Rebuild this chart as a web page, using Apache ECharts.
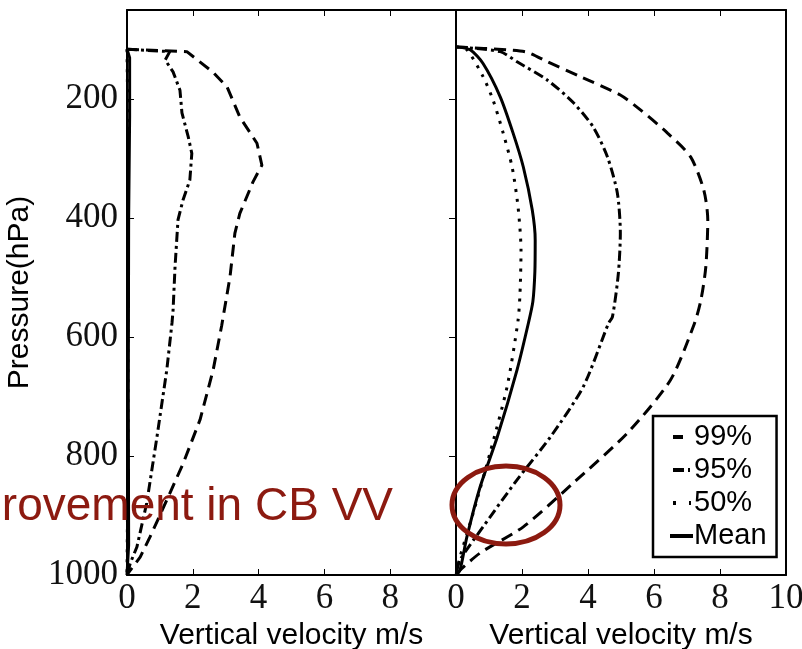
<!DOCTYPE html>
<html>
<head>
<meta charset="utf-8">
<script src="https://cdn.jsdelivr.net/npm/echarts@6/dist/echarts.min.js"></script>
<style>
  html, body { margin: 0; padding: 0; background: #fff; }
  #chart { width: 802px; height: 649px; }
</style>
</head>
<body>
<div id="chart"></div>
<script>
// Vertical velocity profiles: [velocity (m/s), pressure (hPa)]
const leftP99 = [[0,116],[1.82,120],[2.6,154],[3.04,179],[3.43,230],[3.95,274],[4.1,311],[3.83,339],[3.43,392],[3.28,425],[3.13,499],[2.88,580],[2.62,655],[2.22,739],[1.71,812],[1.21,874],[0.7,936],[0.4,970],[0.1,992],[0,1000]];
const leftP95 = [[0,116],[1.3,120],[1.16,134],[1.4,154],[1.61,185],[1.67,223],[1.86,263],[1.97,291],[1.91,336],[1.7,370],[1.55,403],[1.46,482],[1.4,555],[1.37,575],[1.21,655],[0.91,768],[0.6,879],[0.3,953],[0.1,980],[0,1000]];
const leftP50 = [[0,116],[0.03,250],[0.03,500],[0.03,800],[0,1000]];
const leftMean = [[0,116],[0.08,130],[0.08,230],[0.05,400],[0.04,700],[0.05,950],[0,1000]];

const rightP99 = [[0,112],[1.55,117],[2.16,121],[2.77,137],[3.77,162],[4.98,193],[5.59,218],[6.41,257],[7.11,297],[7.51,353],[7.63,403],[7.57,482],[7.42,538],[7.22,578],[6.5,672],[5.2,761],[3.56,845],[2.04,919],[0.73,963],[0.12,992],[0,1000]];
const rightP95 = [[0,112],[1.34,120],[1.85,137],[2.77,168],[3.56,206],[4.16,247],[4.59,297],[4.89,358],[4.98,425],[4.92,493],[4.74,566],[4.62,577],[3.86,683],[2.86,768],[1.85,840],[0.82,919],[0.12,975],[0,1000]];
const rightP50 = [[0,112],[0.33,117],[0.82,162],[1.12,201],[1.43,257],[1.7,314],[1.88,381],[1.97,454],[1.94,526],[1.88,572],[1.55,683],[1.03,795],[0.52,896],[0.12,970],[0,1000]];
const rightMean = [[0,112],[0.43,117],[0.82,140],[1.34,196],[1.73,257],[2.04,314],[2.31,386],[2.4,437],[2.39,490],[2.33,540],[2.2,575],[1.85,655],[1.25,768],[0.73,852],[0.33,936],[0.12,992],[0,1000]];

const pressureTicks = [200, 400, 600, 800, 1000];
const seriesNames = ['99%', '95%', '50%', 'Mean'];
const xTitle = 'Vertical velocity m/s';
const yTitle = 'Pressure(hPa)';
const noteText = 'Improvement in CB VV';

const serifFont = 'Liberation Serif';
const sansFont = 'Liberation Sans';
const noteColor = '#8c1a10';

// dash patterns for the profiles
const dashStyles = {
  '99%': [12, 7],
  '95%': [10, 4, 3, 4],
  '50%': [3, 7],
  'Mean': 'solid'
};
// shorter patterns for the legend keys
const legendDash = {
  '99%': [0, 3, 10, 30],
  '95%': [0, 3, 11, 4, 2, 30],
  '50%': [0, 3, 3, 13, 2, 30],
  'Mean': 'solid'
};

function lineSeries(name, data, idx, smooth) {
  return {
    name: name,
    type: 'line',
    xAxisIndex: idx,
    yAxisIndex: idx,
    data: data,
    symbol: 'none',
    smooth: smooth,
    lineStyle: { color: '#000', width: 3, type: dashStyles[name], cap: 'butt' },
    itemStyle: { color: '#000' },
    emphasis: { disabled: true },
    clip: true
  };
}

function bottomAxis(gridIndex, showMax) {
  return {
    type: 'value', gridIndex: gridIndex, position: 'bottom',
    min: 0, max: 10, interval: 2,
    axisLine: { show: true, onZero: false, lineStyle: { color: '#000', width: 2 } },
    axisTick: { show: true, inside: true, length: 6, lineStyle: { color: '#000', width: 1 } },
    axisLabel: { show: true, showMaxLabel: showMax, margin: 6, fontFamily: serifFont, fontSize: 35, color: '#111' },
    splitLine: { show: false },
    name: xTitle, nameLocation: 'middle', nameGap: 41,
    nameTextStyle: { fontFamily: sansFont, fontSize: 30, color: '#000' }
  };
}

function topAxis(gridIndex) {
  return {
    type: 'value', gridIndex: gridIndex, position: 'top',
    min: 0, max: 10, interval: 2,
    axisLine: { show: true, onZero: false, lineStyle: { color: '#000', width: 2 } },
    axisTick: { show: true, inside: true, length: 6, lineStyle: { color: '#000', width: 1 } },
    axisLabel: { show: false },
    splitLine: { show: false }
  };
}

function yAxis(gridIndex, position, opts) {
  return Object.assign({
    type: 'value', gridIndex: gridIndex, position: position,
    inverse: true, min: 50, max: 1000,
    axisLine: { show: true, onZero: false, lineStyle: { color: '#000', width: 2 } },
    axisTick: { show: false },
    axisLabel: { show: false },
    splitLine: { show: false }
  }, opts || {});
}

const chart = echarts.init(document.getElementById('chart'), null, { renderer: 'canvas' });

chart.setOption({
  animation: false,
  backgroundColor: '#fff',
  grid: [
    { left: 127, right: 346, top: 10, bottom: 74, containLabel: false, outerBoundsMode: 'none' },
    { left: 456, right: 16, top: 10, bottom: 74, containLabel: false, outerBoundsMode: 'none' }
  ],
  xAxis: [bottomAxis(0, false), bottomAxis(1, true), topAxis(0), topAxis(1)],
  yAxis: [
    yAxis(0, 'left', {
      axisTick: { show: true, inside: true, length: 7, customValues: pressureTicks, lineStyle: { color: '#000', width: 1 } },
      axisLabel: {
        show: true, customValues: pressureTicks, margin: 9,
        fontFamily: serifFont, fontSize: 35, color: '#111',
        formatter: function (v) { return String(v); }
      },
      name: yTitle, nameLocation: 'middle', nameGap: 92, nameRotate: 90,
      nameTextStyle: { fontFamily: sansFont, fontSize: 30, color: '#000' }
    }),
    yAxis(1, 'left'),
    yAxis(0, 'right', {
      axisTick: { show: true, inside: true, length: 7, customValues: pressureTicks, lineStyle: { color: '#000', width: 1 } }
    }),
    yAxis(1, 'right')
  ],
  legend: {
    data: seriesNames.map(function (n) {
      return { name: n, lineStyle: { type: legendDash[n], width: 4, cap: 'butt' } };
    }),
    orient: 'vertical',
    left: 653, top: 416,
    padding: [6, 10, 6, 15],
    itemWidth: 23, itemHeight: 14, itemGap: 3,
    borderColor: '#000', borderWidth: 2.5,
    backgroundColor: '#fff',
    itemStyle: { color: 'rgba(0,0,0,0)', borderColor: 'rgba(0,0,0,0)', borderWidth: 0 },
    textStyle: { fontFamily: sansFont, fontSize: 29, lineHeight: 30, color: '#000', padding: [0, 0, 0, -4] },
    selectedMode: false
  },
  series: [
    lineSeries('99%', leftP99, 0, false),
    lineSeries('95%', leftP95, 0, false),
    lineSeries('50%', leftP50, 0, false),
    lineSeries('Mean', leftMean, 0, false),
    lineSeries('99%', rightP99, 1, 0.25),
    lineSeries('95%', rightP95, 1, 0.25),
    lineSeries('50%', rightP50, 1, 0.25),
    lineSeries('Mean', rightMean, 1, 0.25)
  ],
  graphic: [
    {
      type: 'text', z: 100,
      style: {
        x: 393, y: 507, text: noteText,
        align: 'right', verticalAlign: 'middle',
        fontFamily: sansFont, fontSize: 46, fill: noteColor
      }
    },
    {
      type: 'ellipse', z: 100,
      shape: { cx: 506, cy: 505, rx: 54, ry: 39 },
      style: { fill: 'none', stroke: noteColor, lineWidth: 5 }
    }
  ]
});
</script>
</body>
</html>
